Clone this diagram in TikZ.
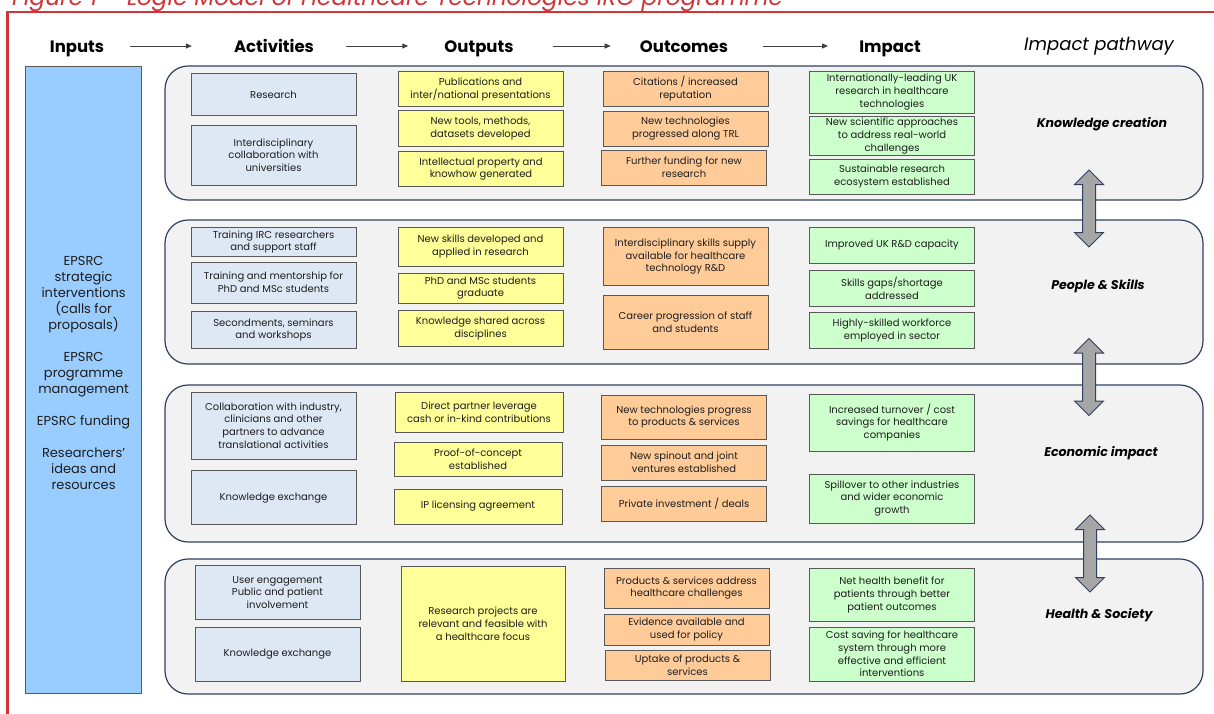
\documentclass[tikz,border=0pt]{standalone}
\usepackage{fontspec}
\setmainfont{Poppins}
\usetikzlibrary{arrows.meta, shapes.arrows}

\definecolor{framered}{RGB}{208,52,56}
\definecolor{inputblue}{RGB}{153,204,255}
\definecolor{actblue}{RGB}{221,232,244}
\definecolor{outyellow}{RGB}{255,255,153}
\definecolor{outcorange}{RGB}{255,204,153}
\definecolor{impgreen}{RGB}{204,255,204}
\definecolor{bandgray}{RGB}{242,242,242}
\definecolor{bandnavy}{RGB}{47,64,96}
\definecolor{boxedge}{RGB}{89,89,89}
\definecolor{arrowgray}{RGB}{166,166,166}
\definecolor{inktext}{RGB}{30,30,30}

\begin{document}
\begin{tikzpicture}[x=1pt, y=-1pt,
    box/.style={draw=boxedge, line width=0.9pt, minimum width=165, align=center, inner sep=1pt,
        text=inktext, font=\fontsize{10}{12.7}\selectfont},
    act/.style={box, fill=actblue},
    outp/.style={box, fill=outyellow},
    outc/.style={box, fill=outcorange},
    imp/.style={box, fill=impgreen},
    band/.style={draw=bandnavy, line width=1.2pt, fill=bandgray, rounded corners=23, minimum width=1038},
    bandlabel/.style={font=\fontsize{12.6}{15}\selectfont\bfseries\itshape},
    header/.style={inner sep=0, anchor=base, text height=12, text depth=0,
        font=\fontsize{16.5}{19}\selectfont\bfseries},
    flow/.style={draw=black!75, line width=1pt, -{Triangle[length=6pt,width=5pt]}},
    pathway/.style={double arrow, rotate=90, draw=bandnavy, fill=arrowgray, line width=1pt,
        minimum height=77, double arrow head extend=8, double arrow head indent=0,
        inner xsep=0, inner ysep=6}
]
    \useasboundingbox (0,0) rectangle (1214,713);

    % Caption and frame
    \node[anchor=base west, inner sep=0, text=framered, font=\fontsize{23.2}{27}\selectfont\itshape] (caption)
        at (12,5.5) {Figure 1 – Logic Model of Healthcare Technologies IRC programme};
    \draw[framered, line width=2.2] (7.5,740) |- (1240,12.2);

    % Column headers
    \node[header] (inputs) at (77,52) {Inputs};
    \node[header] (activities) at (274,52) {Activities};
    \node[header] (outputs) at (479,52) {Outputs};
    \node[header] (outcomes) at (684,52) {Outcomes};
    \node[header] (impact) at (890,52) {Impact};
    \node[inner sep=0, font=\fontsize{18}{21}\selectfont\itshape] (pathway) at (1099,46) {Impact pathway};
    \foreach \a/\b/\s/\e in {inputs/activities/26/42, activities/outputs/32/36,
                              outputs/outcomes/39/29, outcomes/impact/35/31}
        \draw[flow, shorten <=\s pt, shorten >=\e pt] (\a) -- (\b);

    % Inputs
    \node[draw=boxedge, line width=0.9pt, fill=inputblue, minimum width=116, minimum height=627] (inputbox) at (83.6,379.5) {};
    \node[align=center, inner sep=0, text=inktext, font=\fontsize{13}{16}\selectfont] (inputtext) at (83.6,372.5)
        {EPSRC\\strategic\\interventions\\(calls for\\proposals)\\[16pt]EPSRC\\programme\\management\\[16pt]EPSRC funding\\[16pt]Researchers'\\ideas and\\resources};

    % Impact pathway bands
    \node[band, minimum height=134] (knowledge) at (684,133) {};
    \node[band, minimum height=144] (people) at (684,292) {};
    \node[band, minimum height=157] (economic) at (684,463.5) {};
    \node[band, minimum height=135] (health) at (684,626.5) {};
    \node[bandlabel] (knowledge-label) at (1102,124) {Knowledge creation};
    \node[bandlabel] (people-label) at (1098,286) {People \& Skills};
    \node[bandlabel] (economic-label) at (1101,452.7) {Economic impact};
    \node[bandlabel] (health-label) at (1099,615) {Health \& Society};
    \node[pathway] (knowledge-people) at (1089,208.5) {};
    \node[pathway] (people-economic) at (1089,377) {};
    \node[pathway] (economic-health) at (1090,553.5) {};

    % Knowledge creation
    \node[act, minimum height=42] (act-research) at (273.5,94.7) {Research};
    \node[act, minimum height=60] (act-collab) at (273.5,155) {Interdisciplinary\\collaboration with\\universities};
    \node[outp, minimum height=35] (out-pubs) at (480.5,89.2) {Publications and\\inter/national presentations};
    \node[outp, minimum height=35.3] (out-tools) at (480.5,128.3) {New tools, methods,\\datasets developed};
    \node[outp, minimum height=35] (out-ip) at (481,169.2) {Intellectual property and\\knowhow generated};
    \node[outc, minimum height=35.7] (oc-citations) at (685.5,88.8) {Citations / increased\\reputation};
    \node[outc, minimum height=35] (oc-trl) at (685.5,128.5) {New technologies\\progressed along TRL};
    \node[outc, minimum height=35] (oc-funding) at (684,167.5) {Further funding for new\\research};
    \node[imp, minimum height=42] (imp-leading) at (892,92) {Internationally-leading UK\\research in healthcare\\technologies};
    \node[imp, minimum height=39] (imp-approaches) at (892,136.2) {New scientific approaches\\to address real-world\\challenges};
    \node[imp, minimum height=35] (imp-ecosystem) at (892,176.5) {Sustainable research\\ecosystem established};

    % People & Skills
    \node[act, minimum height=28.3] (act-training) at (273.5,241.9) {Training IRC researchers\\and support staff};
    \node[act, minimum height=41] (act-mentor) at (273.5,282.5) {Training and mentorship for\\PhD and MSc students};
    \node[act, minimum height=37.7] (act-second) at (273.5,330) {Secondments, seminars\\and workshops};
    \node[outp, minimum height=39] (out-skills) at (480.5,246.5) {New skills developed and\\applied in research};
    \node[outp, minimum height=30] (out-graduate) at (480.5,288) {PhD and MSc students\\graduate};
    \node[outp, minimum height=36.7] (out-shared) at (480.5,328.3) {Knowledge shared across\\disciplines};
    \node[outc, minimum height=58] (oc-supply) at (685.5,256.7) {Interdisciplinary skills supply\\available for healthcare\\technology R\&D};
    \node[outc, minimum height=54] (oc-career) at (685.5,322) {Career progression of staff\\and students};
    \node[imp, minimum height=35.3] (imp-capacity) at (892,245.3) {Improved UK R\&D capacity};
    \node[imp, minimum height=36] (imp-gaps) at (892,288) {Skills gaps/shortage\\addressed};
    \node[imp, minimum height=35.3] (imp-workforce) at (892,330.3) {Highly-skilled workforce\\employed in sector};

    % Economic impact
    \node[act, minimum height=67] (act-industry) at (273.5,425.5) {Collaboration with industry,\\clinicians and other\\partners to advance\\translational activities};
    \node[act, minimum height=54] (act-exchange) at (273.5,497.7) {Knowledge exchange};
    \node[outp, minimum width=168, minimum height=40] (out-leverage) at (479,412) {Direct partner leverage\\cash or in-kind contributions};
    \node[outp, minimum width=168, minimum height=34.7] (out-concept) at (478,459.3) {Proof-of-concept\\established};
    \node[outp, minimum width=168, minimum height=35] (out-licensing) at (478,506.5) {IP licensing agreement};
    \node[outc, minimum height=44] (oc-products) at (684,417) {New technologies progress\\to products \& services};
    \node[outc, minimum height=35] (oc-spinout) at (684,462.5) {New spinout and joint\\ventures established};
    \node[outc, minimum height=35] (oc-investment) at (684,503.5) {Private investment / deals};
    \node[imp, minimum height=57] (imp-turnover) at (892,422.5) {Increased turnover / cost\\savings for healthcare\\companies};
    \node[imp, minimum height=49] (imp-spillover) at (892,498.5) {Spillover to other industries\\and wider economic\\growth};

    % Health & Society
    \node[act, minimum height=53.3] (act-users) at (277.5,592.4) {User engagement\\Public and patient\\involvement};
    \node[act, minimum height=54] (act-exchange-hs) at (277.5,654) {Knowledge exchange};
    \node[outp, minimum width=164, minimum height=114.3] (out-relevant) at (483,623.8) {Research projects are\\relevant and feasible with\\a healthcare focus};
    \node[outc, minimum height=40] (oc-challenges) at (686.5,588) {Products \& services address\\healthcare challenges};
    \node[outc, minimum height=31] (oc-policy) at (686.5,629.5) {Evidence available and\\used for policy};
    \node[outc, minimum height=30.7] (oc-uptake) at (687.5,665.3) {Uptake of products \&\\services};
    \node[imp, minimum height=53.7] (imp-patients) at (892,594.8) {Net health benefit for\\patients through better\\patient outcomes};
    \node[imp, minimum height=54] (imp-saving) at (892,654) {Cost saving for healthcare\\system through more\\effective and efficient\\interventions};
\end{tikzpicture}
\end{document}
